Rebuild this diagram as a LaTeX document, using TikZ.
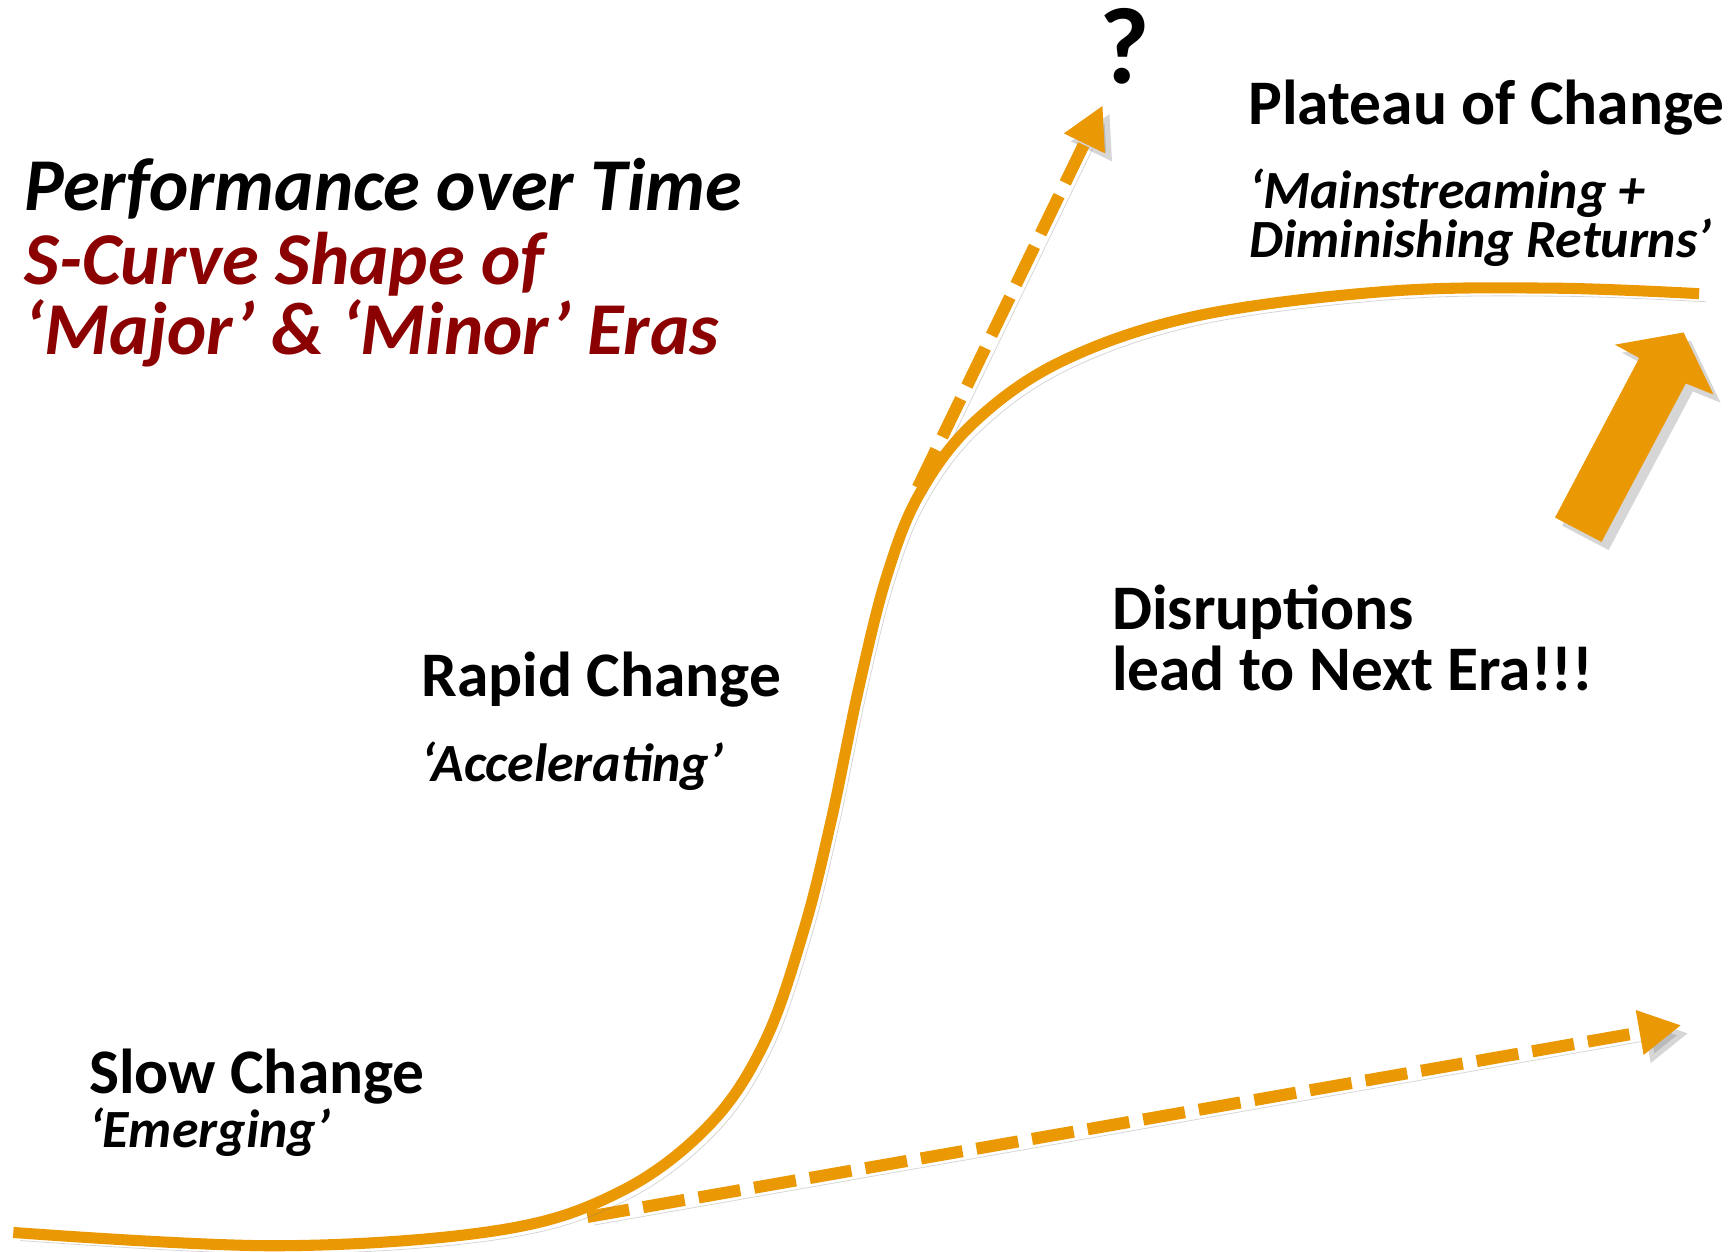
\documentclass[tikz,border=0pt]{standalone}
\usepackage{fontspec}
\setmainfont{Carlito}
\usetikzlibrary{arrows.meta}
\definecolor{eraorange}{RGB}{234,152,4}
\definecolor{erared}{RGB}{139,0,0}
\definecolor{shadegray}{RGB}{120,120,120}

\begin{document}
\begin{tikzpicture}[x=0.55pt, y=0.55pt,
    shade/.style={preaction={draw=shadegray, opacity=0.3, transform canvas={shift={(3.5pt,-4pt)}}}},
    eraline/.style={eraorange, line width=5.5pt},
    dashline/.style={eraorange, line width=6pt, dash pattern=on 21pt off 7pt, -{Triangle[length=21pt,width=21pt]}},
    headtext/.style={anchor=base west, inner sep=0pt, font=\fontsize{31.5}{33}\selectfont\bfseries},
    subtext/.style={anchor=base west, inner sep=0pt, font=\fontsize{26.7}{28}\selectfont\bfseries\itshape},
    titletext/.style={anchor=base west, inner sep=0pt, font=\fontsize{37}{39}\selectfont\bfseries\itshape}]
    \useasboundingbox (0,0) rectangle (1560,1129);

    % Arrow end points
    \coordinate (breakstart) at (828,689);
    \coordinate (breakend) at (995,1034);
    \coordinate (nextstart) at (530,31);
    \coordinate (nextend) at (1517,204);

    % Dashed arrows
    \draw[dashline, shade] (breakstart) -- (breakend);
    \draw[dashline, shade] (nextstart) -- (nextend);

    % S-curve
    \draw[eraline, shade] plot[smooth, tension=0.6] coordinates {
        (12,17) (250,5) (450,19) (560,54) (640,114) (690,189) (725,289)
        (750,389) (775,509) (800,609) (830,684) (880,749) (960,804)
        (1080,844) (1250,866) (1400,869) (1533,864)};

    % Big arrow
    \fill[shadegray, opacity=0.3, transform canvas={shift={(3.5pt,-4pt)}}]
        (1519,829) -- (1546,773) -- (1521,783) -- (1445,640) -- (1403,662)
        -- (1479,806) -- (1457,818) -- cycle;
    \fill[eraorange] (1519,829) -- (1546,773) -- (1521,783) -- (1445,640)
        -- (1403,662) -- (1479,806) -- (1457,818) -- cycle;

    % Question mark
    \node[anchor=base, inner sep=0pt, font=\fontsize{54}{56}\selectfont\bfseries] (quest) at (1015,1054) {?};

    % Title
    \node[titletext] (perf) at (22,939) {Performance over Time};
    \node[titletext, text=erared] (scurve) at (22,872) {S-Curve Shape of};
    \node[titletext, text=erared] (eras) at (22,809) {‘Major’ \& ‘Minor’ Eras};

    % Phases
    \node[headtext] (plateau) at (1126,1017) {Plateau of Change};
    \node[subtext] (mainstr) at (1127,941) {‘Mainstreaming +};
    \node[subtext] (dimin) at (1127,897) {Diminishing Returns’};

    \node[headtext] (rapid) at (380,501) {Rapid Change};
    \node[subtext] (accel) at (380,424) {‘Accelerating’};

    \node[headtext] (disr) at (1003,561) {Disruptions};
    \node[headtext] (nextera) at (1003,506) {lead to Next Era!!!};

    \node[headtext] (slow) at (80,142) {Slow Change};
    \node[subtext] (emerg) at (80,94) {‘Emerging’};
\end{tikzpicture}
\end{document}
